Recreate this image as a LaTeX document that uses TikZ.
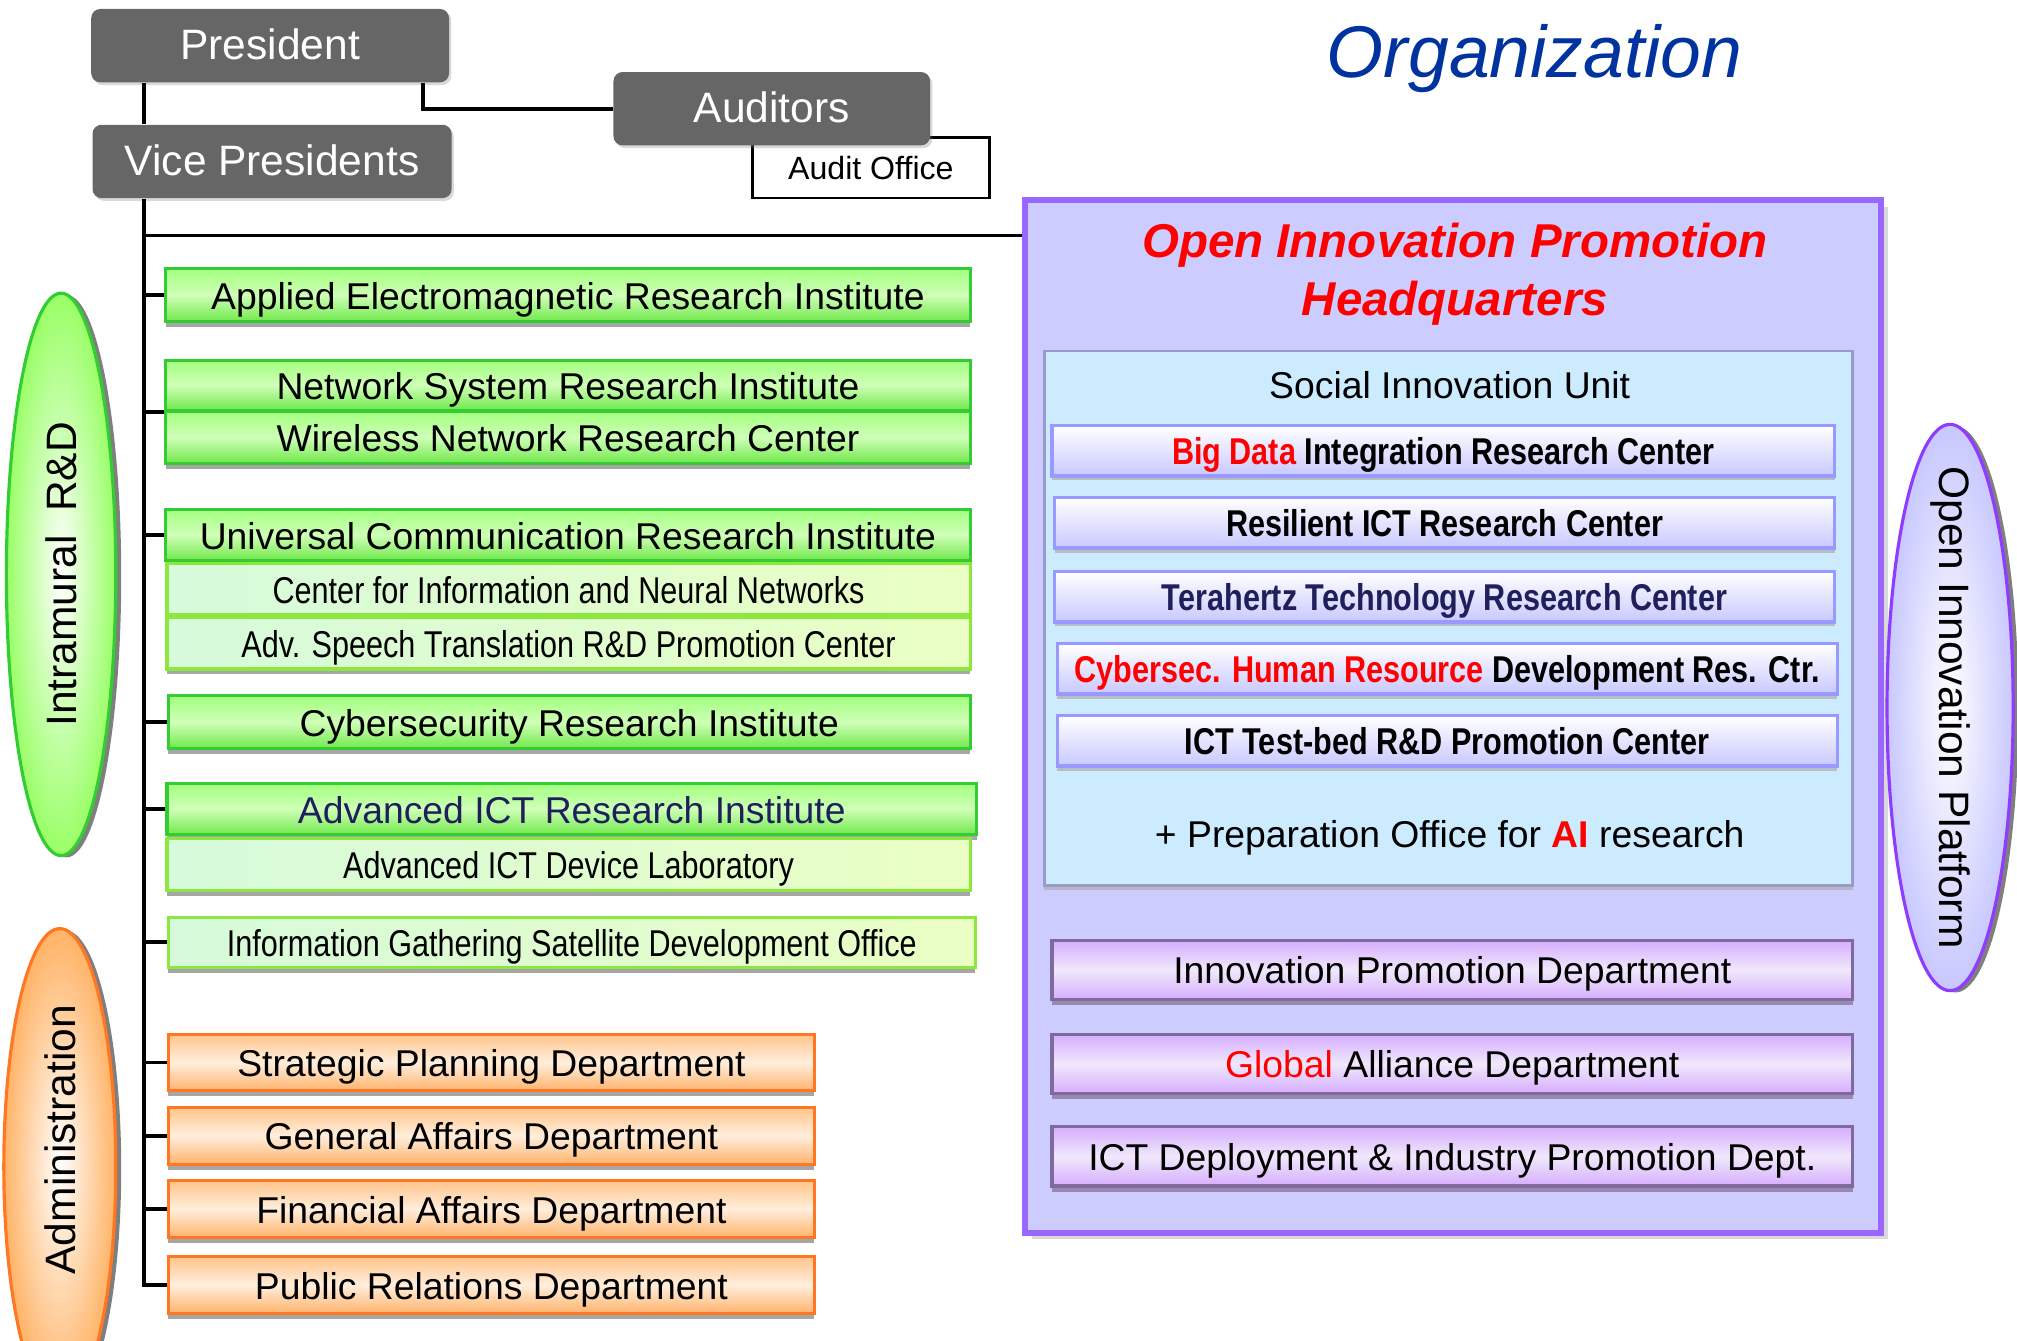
\documentclass[tikz,border=0pt]{standalone}
\usepackage{fontspec}
\setmainfont{Liberation Sans}
\newfontfamily\narrowfont[FakeStretch=0.82]{Liberation Sans}
\usetikzlibrary{shadows,shapes.geometric}

\newcommand{\fsz}[1]{\fontsize{#1}{1.2\dimexpr#1pt}\selectfont}

\definecolor{boxgray}{HTML}{666666}
\definecolor{instedge}{HTML}{33CC33}
\definecolor{insttop}{HTML}{A3FF7F}
\definecolor{instmid}{HTML}{CFFFB8}
\definecolor{instbot}{HTML}{70E84A}
\definecolor{labedge}{HTML}{8CE83C}
\definecolor{lableft}{HTML}{D6FADB}
\definecolor{labright}{HTML}{EAFFC4}
\definecolor{admedge}{HTML}{FF7722}
\definecolor{admtop}{HTML}{FFC58A}
\definecolor{admmid}{HTML}{FFEEDD}
\definecolor{admbot}{HTML}{FFB36B}
\definecolor{subedge}{HTML}{9999FF}
\definecolor{subbot}{HTML}{C8C8FF}
\definecolor{deptedge}{HTML}{7F6A9E}
\definecolor{depttop}{HTML}{D6ADFF}
\definecolor{deptmid}{HTML}{F0E8FB}
\definecolor{hqfill}{HTML}{CCCCFF}
\definecolor{hqedge}{HTML}{9966FF}
\definecolor{siufill}{HTML}{CCEBFF}
\definecolor{siuedge}{HTML}{9999CC}
\definecolor{navy}{HTML}{1F1F5C}
\definecolor{orgblue}{HTML}{0033A0}
\definecolor{ovgreen}{HTML}{99FF66}
\definecolor{ovorange}{HTML}{FFB366}
\definecolor{ovpurple}{HTML}{C8C8FF}
\definecolor{ovedge}{HTML}{8F3CFF}

\begin{document}
\begin{tikzpicture}[x=0.01cm,y=-0.01cm,
  line/.style={line width=0.8pt},
  caps/.style={text height=0.72em,text depth=0.1em},
  chief/.style={rectangle,rounded corners=2pt,fill=boxgray,text=white,font=\fsz{9.4},caps,
    minimum height=0.57cm,inner sep=0pt,
    drop shadow={shadow xshift=0.5pt,shadow yshift=-0.6pt,opacity=0.3}},
  inst/.style={rectangle,draw=instedge,line width=0.7pt,top color=insttop,bottom color=instbot,
    middle color=instmid,minimum width=6.25cm,minimum height=0.4cm,inner sep=0pt,font=\fsz{8.25},caps,
    drop shadow={shadow xshift=0pt,shadow yshift=-1.2pt,fill=gray!70,opacity=1}},
  lab/.style={inst,draw=labedge,left color=lableft,right color=labright,font=\narrowfont\fsz{8.25}},
  admin/.style={inst,draw=admedge,top color=admtop,bottom color=admbot,middle color=admmid,
    minimum width=5.02cm,minimum height=0.44cm},
  sunit/.style={rectangle,draw=subedge,line width=0.7pt,top color=white,bottom color=subbot,caps,
    minimum height=0.39cm,inner sep=0pt,font=\narrowfont\bfseries\fsz{8.25},
    drop shadow={shadow xshift=0pt,shadow yshift=-1pt,fill=gray!60,opacity=0.8}},
  dept/.style={rectangle,draw=deptedge,line width=0.7pt,top color=depttop,bottom color=depttop,
    middle color=deptmid,minimum width=6.22cm,minimum height=0.46cm,inner sep=0pt,font=\fsz{8.25},caps,
    drop shadow={shadow xshift=0pt,shadow yshift=-1.3pt,fill=deptedge!80,opacity=1}},
  oval/.style={ellipse,inner sep=0pt,line width=0.7pt,font=\fsz{9.4},
    drop shadow={shadow xshift=1.2pt,shadow yshift=-0.4pt,fill=black,opacity=0.5}},
]
  \useasboundingbox (0,0) rectangle (1568,1042);

  % top management
  \node[rectangle,draw,line width=0.6pt,fill=white,minimum width=1.84cm,minimum height=0.47cm,
    inner sep=0pt,font=\fsz{7.1}] (aoff) at (677,130.5) {Audit Office};
  \node[chief,minimum width=2.78cm] (pres) at (210,35.5) {President};
  \node[chief,minimum width=2.79cm] (vp) at (211.5,125.5) {Vice Presidents};
  \node[chief,minimum width=2.46cm] (aud) at (600,84.5) {Auditors};
  \node[font=\itshape\fsz{16.2},text=orgblue,caps] (org) at (1193,49) {Organization};

  % headquarters frame
  \node[rectangle,draw=hqedge,line width=1.3pt,fill=hqfill,minimum width=6.65cm,minimum height=8.02cm,
    drop shadow={shadow xshift=1.5pt,shadow yshift=-1.5pt,opacity=0.3}] (oiph) at (1129.5,557) {};
  \node[font=\bfseries\itshape\fontsize{10.5}{12.8}\selectfont,text=red,align=center] (oiphtitle)
    at (1131,213) {Open Innovation Promotion\\Headquarters};
  \node[rectangle,draw=siuedge,line width=0.6pt,fill=siufill,minimum width=6.28cm,minimum height=4.15cm,
    drop shadow={shadow xshift=0pt,shadow yshift=-1pt,fill=gray!60,opacity=0.8}] (siu) at (1126,480.5) {};
  \node[font=\fsz{8.25},caps] (siutitle) at (1127,299) {Social Innovation Unit};
  \node[sunit,minimum width=6.08cm] (bigdata) at (1122,350.5) {\textcolor{red}{Big Data} Integration Research Center};
  \node[sunit,minimum width=6.06cm] (resil) at (1123,406.5) {Resilient ICT Research Center};
  \node[sunit,minimum width=6.06cm,text=navy] (thz) at (1123,464) {Terahertz Technology Research Center};
  \node[sunit,minimum width=6.06cm] (cyhr) at (1125,520) {\textcolor{red}{Cybersec. Human Resource} Development Res. Ctr.};
  \node[sunit,minimum width=6.06cm] (testbed) at (1125,576) {ICT Test-bed R\&D Promotion Center};
  \node[font=\fsz{8.25},caps] (aiprep) at (1127,648) {+ Preparation Office for \textbf{\textcolor{red}{AI}} research};
  \node[dept] (ipd) at (1129,754) {Innovation Promotion Department};
  \node[dept] (gad) at (1129,827) {\textcolor{red}{Global} Alliance Department};
  \node[dept] (ictd) at (1129,899) {ICT Deployment \& Industry Promotion Dept.};

  % institutes
  \node[inst,minimum height=0.41cm] (aemri) at (441.5,229.5) {Applied Electromagnetic Research Institute};
  \node[inst,minimum height=0.39cm] (nsri) at (441.5,299.5) {Network System Research Institute};
  \node[inst] (wnrc) at (441.5,340) {Wireless Network Research Center};
  \node[inst] (ucri) at (441.5,416) {Universal Communication Research Institute};
  \node[lab,minimum width=6.24cm] (cinet) at (442,458) {Center for Information and Neural Networks};
  \node[lab,minimum width=6.24cm] (astrec) at (442,500) {Adv. Speech Translation R\&D Promotion Center};
  \node[inst,minimum width=6.23cm,minimum height=0.41cm] (csri) at (442.5,561.5) {Cybersecurity Research Institute};
  \node[inst,minimum width=6.29cm,text=navy] (aictri) at (444.5,629) {Advanced ICT Research Institute};
  \node[lab,minimum width=6.24cm] (aictdl) at (442,672) {Advanced ICT Device Laboratory};
  \node[lab,minimum width=6.27cm,minimum height=0.39cm] (igsdo) at (444.5,732.5) {Information Gathering Satellite Development Office};

  % administration
  \node[admin] (spd) at (382,826) {Strategic Planning Department};
  \node[admin] (gend) at (382,883) {General Affairs Department};
  \node[admin] (fad) at (382,940) {Financial Affairs Department};
  \node[admin] (prd) at (382,999) {Public Relations Department};

  % side labels
  \node[oval,draw=instedge,inner color=white,outer color=ovgreen,minimum width=0.85cm,minimum height=4.37cm]
    (intra) at (47.5,446.5) {};
  \node[font=\fsz{9.4},rotate=90] (intratext) at (intra.center) {Intramural\ \ R\&D};
  \node[oval,draw=admedge,inner color=white,outer color=ovorange,minimum width=0.87cm,minimum height=3.7cm]
    (adm) at (46.5,907) {};
  \node[font=\fsz{9.4},rotate=90] (admtext) at (47,886) {Administration};
  \node[oval,draw=ovedge,inner color=white,outer color=ovpurple,minimum width=0.98cm,minimum height=4.4cm]
    (oip) at (1516,550) {};
  \node[font=\fsz{9.4},rotate=-90] (oiptext) at (oip.center) {Open Innovation Platform};

  % connectors
  \coordinate (trunk) at (112,0);
  \coordinate (audtap) at (329,0);
  \draw[line] (trunk |- pres.south) -- (trunk |- vp.north);
  \draw[line] (audtap |- pres.south) |- (aud.west);
  \draw[line] (trunk |- vp.south) |- (prd.west);
  \draw[line] (trunk |- 0,183) -- (oiph.west |- 0,183);
  \draw[line] (trunk |- aemri.west) -- (aemri.west);
  \draw[line] (trunk |- nsri.south west) -- (nsri.south west);
  \draw[line] (trunk |- ucri.west) -- (ucri.west);
  \draw[line] (trunk |- csri.west) -- (csri.west);
  \draw[line] (trunk |- aictri.west) -- (aictri.west);
  \draw[line] (trunk |- igsdo.west) -- (igsdo.west);
  \draw[line] (trunk |- spd.west) -- (spd.west);
  \draw[line] (trunk |- gend.west) -- (gend.west);
  \draw[line] (trunk |- fad.west) -- (fad.west);
\end{tikzpicture}
\end{document}
